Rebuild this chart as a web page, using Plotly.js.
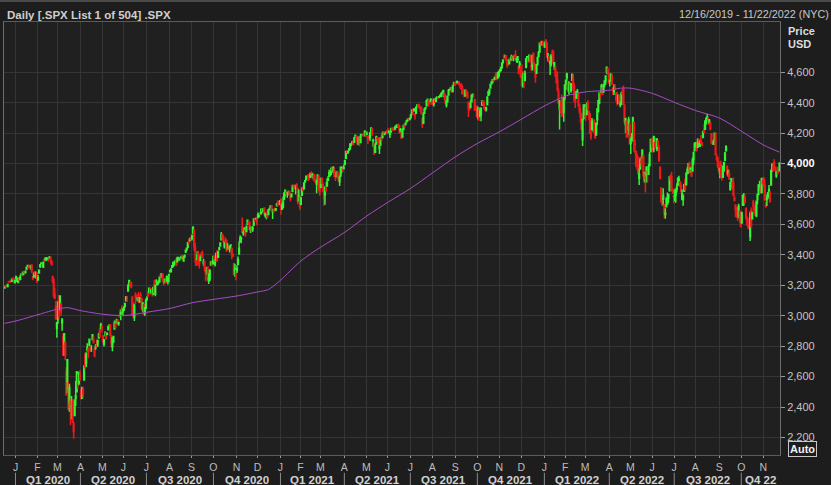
<!DOCTYPE html>
<html><head><meta charset="utf-8">
<script src="https://cdn.plot.ly/plotly-3.0.1.min.js"></script>
<style>html,body{margin:0;padding:0;background:#1d1d1d;overflow:hidden}</style>
</head><body><div id="chart" style="width:831px;height:485px"></div>
<script>
// ---- trading calendar ----
const startDate = "2019-12-16";
const endDate = "2022-11-22";
const holidays = ["2019-12-25","2020-01-01","2020-01-20","2020-02-17","2020-04-10","2020-05-25","2020-07-03","2020-09-07","2020-11-26","2020-12-25","2021-01-01","2021-01-18","2021-02-15","2021-04-02","2021-05-31","2021-07-05","2021-09-06","2021-11-25","2021-12-24","2022-01-17","2022-02-21","2022-04-15","2022-05-30","2022-06-20","2022-07-04","2022-09-05"];

// ---- daily OHLC (.SPX), one row per month ----
const opens = [
3183,3195,3196,3192,3223,3227,3225,3227,3247,3240,3216,
3245,3226,3218,3242,3238,3267,3281,3271,3285,3283,3303,3324,3321,3330,3316,3334,3248,3255,3289,3256,3282,
3235,3280,3324,3344,3335,3319,3366,3370,3365,3378,3370,3380,3380,3360,3258,3238,3140,3063,2916,
2975,3097,3045,3076,2954,2864,2814,2825,2630,2569,2509,2426,2437,2394,2432,2291,2345,2458,2501,2556,2558,2614,
2499,2458,2515,2578,2738,2686,2776,2782,2805,2796,2800,2843,2846,2785,2791,2810,2813,2854,2910,2919,2930,
2869,2815,2868,2884,2879,2908,2915,2939,2865,2795,2829,2913,2948,2953,2970,2948,3004,3015,3046,3026,
3038,3064,3098,3112,3163,3199,3213,3213,3123,3071,2994,3131,3137,3101,3141,3095,3138,3115,3047,3074,3018,3050,
3105,3143,3155,3166,3154,3177,3153,3205,3141,3225,3208,3224,3224,3268,3254,3272,3219,3219,3234,3228,3232,3270,
3289,3289,3318,3324,3341,3357,3370,3355,3372,3368,3381,3388,3392,3360,3386,3418,3436,3449,3486,3494,3509,
3507,3543,3564,3453,3371,3370,3413,3352,3363,3407,3412,3346,3357,3296,3295,3321,3226,3236,3334,3350,3341,
3385,3339,3368,3408,3385,3434,3459,3500,3534,3516,3453,3493,3494,3439,3439,3439,3464,3442,3403,3342,3278,3294,
3297,3336,3406,3486,3508,3584,3543,3563,3562,3553,3600,3611,3612,3560,3580,3567,3594,3635,3638,3635,
3645,3654,3669,3670,3694,3684,3706,3659,3656,3675,3666,3696,3713,3722,3684,3694,3693,3694,3723,3750,3736,3734,
3764,3699,3713,3764,3815,3803,3801,3803,3815,3788,3781,3817,3858,3845,3852,3863,3837,3756,3778,
3732,3791,3840,3837,3878,3893,3910,3921,3917,3911,3940,3918,3916,3921,3886,3865,3874,3916,3839,
3842,3903,3863,3818,3793,3844,3852,3891,3916,3925,3943,3973,3950,3953,3914,3917,3938,3920,3879,3918,3969,3964,3967,
3993,4034,4075,4074,4089,4096,4125,4131,4141,4140,4174,4179,4160,4128,4171,4139,4185,4188,4185,4206,4199,
4192,4179,4178,4170,4210,4228,4151,4131,4074,4129,4169,4170,4099,4122,4168,4171,4205,4192,4201,4210,
4217,4206,4192,4207,4229,4233,4233,4228,4242,4248,4256,4249,4220,4205,4174,4225,4248,4256,4275,4285,4293,4290,
4301,4327,4357,4351,4322,4330,4373,4381,4381,4369,4367,4297,4266,4331,4361,4381,4410,4417,4403,4408,4395,
4407,4393,4416,4409,4429,4438,4436,4442,4447,4464,4462,4462,4440,4383,4406,4450,4485,4487,4493,4474,4514,4529,
4528,4535,4532,4536,4518,4513,4507,4475,4479,4447,4477,4469,4403,4375,4368,4406,4439,4443,4420,4363,4371,
4317,4348,4310,4320,4384,4407,4391,4368,4359,4387,4448,4464,4497,4524,4533,4547,4554,4579,4581,4562,4573,
4610,4613,4630,4662,4700,4702,4707,4670,4659,4656,4689,4680,4702,4700,4708,4712,4679,4676,4640,4629,4640,
4602,4505,4589,4548,4631,4690,4687,4687,4710,4642,4636,4720,4653,4588,4594,4650,4704,4733,4796,4789,4795,4776,
4778,4804,4788,4693,4697,4655,4670,4729,4734,4637,4632,4588,4548,4471,4356,4367,4381,4380,4337,4432,
4520,4566,4535,4482,4505,4480,4547,4554,4506,4412,4429,4455,4456,4385,4333,4324,4156,4298,4355,
4364,4322,4401,4343,4327,4202,4223,4252,4280,4203,4188,4288,4345,4398,4462,4469,4494,4470,4522,4541,4603,4624,4600,
4540,4548,4572,4495,4475,4494,4462,4438,4398,4449,4385,4390,4473,4490,4385,4256,4278,4187,4222,4253,
4131,4159,4181,4271,4129,4081,4035,3991,3904,3964,4013,4052,4052,3900,3927,3920,3942,3929,3985,4077,4151,
4150,4096,4137,4135,4097,4148,4102,3975,3839,3764,3765,3729,3666,3716,3734,3774,3821,3921,3913,3825,3786,
3782,3793,3831,3858,3888,3881,3853,3767,3764,3818,3884,3860,3935,3955,3998,3965,3954,3951,4027,4087,
4113,4105,4107,4155,4115,4155,4134,4171,4227,4226,4270,4290,4281,4273,4267,4195,4134,4126,4154,4199,4034,4041,4000,
3937,3995,3931,3910,3960,4022,4084,3982,3940,3932,3831,3849,3875,3871,3774,3728,3682,3687,3652,3688,3633,
3610,3726,3753,3771,3707,3647,3595,3590,3520,3690,3638,3747,3698,3689,3657,3763,3799,3825,3836,3809,3881,
3902,3853,3733,3767,3781,3818,3810,3859,3964,3977,4007,3977,3919,3967,3957,3957
];
const highs = [
3197,3198,3198,3206,3226,3227,3226,3240,3247,3240,3232,
3258,3246,3247,3245,3268,3276,3282,3288,3295,3298,3317,3329,3329,3337,3327,3334,3259,3286,3293,3286,3282,
3268,3306,3337,3348,3341,3352,3376,3381,3385,3381,3375,3393,3389,3360,3260,3247,3183,3098,2960,
3091,3137,3131,3084,2985,2883,2883,2825,2661,2711,2563,2553,2454,2473,2453,2307,2449,2571,2637,2616,2631,2642,
2522,2534,2533,2676,2757,2760,2819,2782,2851,2801,2806,2880,2868,2785,2815,2845,2843,2888,2922,2954,2930,
2869,2844,2898,2892,2892,2932,2945,2945,2875,2853,2865,2968,2965,2981,2978,2957,3022,3037,3068,3049,
3063,3081,3130,3129,3211,3233,3222,3223,3123,3088,3079,3154,3141,3121,3156,3121,3155,3115,3086,3074,3054,3112,
3128,3165,3183,3185,3172,3180,3187,3236,3200,3239,3220,3233,3259,3277,3279,3280,3227,3242,3244,3264,3251,3272,
3302,3307,3331,3352,3352,3364,3381,3387,3388,3378,3387,3396,3399,3391,3400,3433,3445,3481,3502,3510,3514,
3529,3588,3564,3480,3379,3424,3425,3368,3402,3419,3429,3375,3363,3296,3320,3323,3279,3306,3360,3358,3394,
3397,3370,3410,3432,3426,3447,3483,3550,3534,3527,3489,3516,3502,3476,3465,3461,3466,3442,3410,3342,3342,3304,
3331,3389,3487,3529,3521,3646,3558,3582,3570,3593,3628,3624,3620,3585,3582,3589,3643,3636,3645,3635,
3679,3670,3683,3699,3698,3708,3713,3678,3665,3698,3695,3711,3726,3726,3703,3698,3711,3703,3740,3757,3744,3760,
3770,3738,3784,3811,3826,3818,3811,3821,3823,3796,3805,3860,3862,3852,3860,3870,3837,3830,3778,
3784,3844,3848,3872,3894,3916,3919,3931,3926,3937,3950,3933,3921,3931,3902,3895,3928,3926,3861,
3903,3907,3875,3843,3851,3881,3903,3918,3960,3944,3970,3982,3983,3969,3918,3949,3952,3937,3919,3978,3982,3968,3994,
4021,4084,4087,4084,4098,4129,4131,4149,4151,4173,4191,4181,4160,4175,4179,4195,4195,4193,4201,4218,4199,
4210,4179,4187,4202,4238,4236,4163,4134,4132,4183,4171,4170,4117,4172,4188,4210,4214,4203,4213,4218,
4235,4218,4205,4234,4233,4237,4238,4250,4249,4255,4258,4251,4233,4205,4226,4256,4256,4272,4286,4292,4300,4302,
4321,4355,4359,4361,4331,4372,4386,4393,4393,4370,4376,4297,4337,4359,4369,4415,4422,4417,4416,4430,4412,
4423,4424,4418,4430,4441,4440,4446,4449,4462,4468,4480,4462,4454,4419,4444,4489,4492,4499,4495,4514,4538,4532,
4537,4546,4542,4536,4521,4530,4520,4492,4485,4486,4486,4471,4403,4394,4416,4453,4460,4457,4420,4381,4383,
4375,4356,4369,4365,4418,4412,4415,4375,4373,4439,4475,4488,4520,4540,4550,4560,4572,4599,4584,4598,4608,
4621,4635,4664,4684,4718,4714,4709,4685,4664,4688,4698,4714,4703,4708,4718,4744,4691,4703,4640,4673,4647,
4652,4596,4608,4612,4694,4705,4695,4713,4711,4660,4712,4731,4666,4588,4652,4698,4740,4791,4807,4805,4809,4787,
4797,4819,4798,4726,4708,4673,4714,4749,4745,4666,4632,4612,4603,4494,4417,4412,4454,4429,4432,4516,
4547,4596,4542,4540,4521,4531,4591,4589,4527,4427,4472,4490,4456,4394,4363,4325,4295,4385,4389,
4375,4401,4416,4343,4327,4277,4299,4268,4292,4218,4272,4358,4412,4465,4482,4522,4501,4520,4546,4576,4637,4627,4603,
4549,4593,4593,4503,4521,4521,4464,4471,4453,4453,4410,4471,4489,4513,4386,4300,4278,4241,4308,4270,
4169,4200,4308,4272,4158,4082,4068,4049,3965,4039,4049,4089,4052,3946,3943,3982,3956,3999,4076,4158,4169,
4166,4177,4143,4168,4164,4150,4119,3975,3839,3779,3838,3729,3707,3779,3810,3802,3913,3928,3946,3837,3786,
3829,3832,3870,3910,3919,3881,3874,3829,3797,3864,3903,3939,3975,3999,4013,3976,3954,4039,4079,4140,
4141,4140,4167,4161,4152,4187,4141,4211,4258,4280,4302,4325,4302,4292,4267,4195,4149,4156,4200,4204,4062,4044,4016,
3971,4019,3943,3987,4011,4077,4120,3987,3961,3960,3881,3901,3876,3908,3790,3728,3715,3718,3736,3688,3672,
3683,3792,3807,3797,3710,3652,3641,3608,3685,3712,3678,3762,3719,3737,3757,3800,3862,3887,3859,3905,3893,
3912,3895,3751,3796,3813,3859,3818,3959,4002,4009,4028,3983,3955,3979,3962,4004
];
const lows = [
3183,3191,3191,3192,3216,3222,3221,3227,3235,3216,3213,
3236,3223,3214,3232,3236,3263,3260,3268,3277,3280,3302,3318,3311,3320,3302,3281,3234,3253,3271,3243,3214,
3235,3280,3313,3333,3325,3317,3355,3369,3360,3367,3356,3378,3342,3328,3214,3118,3108,2977,2855,
2946,2977,3035,2999,2902,2735,2735,2707,2478,2492,2380,2367,2281,2320,2295,2192,2345,2407,2500,2521,2545,2572,
2448,2455,2460,2575,2657,2664,2763,2721,2805,2761,2764,2843,2820,2728,2776,2795,2795,2852,2860,2912,2892,
2822,2798,2863,2844,2871,2903,2904,2870,2794,2766,2820,2911,2922,2953,2939,2934,2988,2970,3024,2999,
3031,3052,3098,3091,3163,3197,3193,3181,2999,2984,2966,3077,3109,3093,3083,3084,3125,3033,3025,3005,2999,3048,
3099,3125,3155,3142,3144,3127,3135,3152,3128,3201,3199,3205,3216,3247,3251,3222,3200,3215,3216,3228,3205,3220,
3284,3285,3317,3318,3329,3336,3326,3355,3364,3361,3379,3371,3369,3354,3380,3413,3425,3444,3468,3488,3494,
3494,3536,3427,3350,3330,3366,3329,3311,3363,3390,3384,3328,3292,3229,3271,3232,3209,3229,3332,3327,3341,
3361,3323,3367,3354,3385,3428,3458,3495,3500,3480,3441,3483,3420,3436,3433,3416,3441,3371,3388,3268,3257,3234,
3280,3336,3406,3486,3477,3544,3525,3557,3519,3553,3600,3594,3567,3543,3556,3552,3594,3617,3629,3594,
3645,3645,3661,3670,3684,3679,3657,3645,3634,3645,3660,3691,3710,3701,3636,3676,3689,3689,3723,3720,3730,3726,
3663,3696,3705,3764,3784,3796,3776,3792,3792,3750,3780,3817,3846,3831,3797,3848,3733,3756,3694,
3726,3791,3817,3827,3874,3892,3903,3885,3890,3905,3923,3901,3886,3884,3874,3805,3860,3819,3789,
3842,3868,3818,3723,3730,3819,3852,3885,3916,3916,3924,3950,3936,3911,3885,3910,3901,3889,3853,3918,3940,3944,3966,
3993,4034,4069,4063,4082,4095,4114,4124,4120,4140,4171,4146,4119,4126,4115,4139,4182,4181,4182,4177,4175,
4188,4128,4161,4148,4202,4188,4111,4057,4074,4129,4143,4127,4062,4122,4152,4171,4181,4188,4197,4203,
4198,4199,4168,4207,4214,4217,4219,4221,4233,4235,4240,4196,4203,4165,4174,4218,4240,4256,4271,4275,4283,4287,
4301,4327,4315,4340,4290,4330,4365,4368,4362,4341,4326,4234,4259,4329,4351,4373,4405,4373,4387,4408,4387,
4381,4374,4400,4404,4427,4425,4431,4437,4436,4460,4437,4417,4397,4368,4406,4450,4478,4485,4468,4474,4514,4510,
4522,4527,4524,4513,4493,4492,4457,4458,4435,4439,4448,4427,4306,4347,4368,4406,4435,4436,4346,4346,4307,
4289,4279,4310,4278,4384,4386,4361,4343,4342,4387,4448,4448,4496,4524,4528,4538,4547,4568,4551,4562,4567,
4596,4604,4624,4662,4683,4695,4671,4630,4650,4651,4673,4680,4684,4672,4693,4680,4662,4660,4585,4629,4560,
4511,4505,4495,4541,4631,4670,4666,4671,4666,4606,4612,4651,4600,4531,4594,4645,4704,4733,4781,4775,4777,4766,
4759,4775,4699,4671,4663,4582,4638,4708,4651,4615,4568,4531,4475,4396,4223,4329,4305,4309,4274,4415,
4484,4544,4470,4452,4471,4465,4547,4477,4402,4365,4429,4429,4374,4327,4268,4222,4115,4287,4318,
4280,4322,4351,4285,4199,4157,4223,4209,4201,4161,4187,4251,4335,4390,4425,4469,4455,4466,4501,4517,4589,4582,4530,
4507,4547,4515,4451,4450,4483,4409,4382,4397,4392,4370,4388,4450,4385,4268,4200,4175,4170,4188,4124,
4063,4147,4144,4077,4067,3976,3959,3929,3859,3964,3983,4033,3912,3876,3810,3876,3875,3925,3985,4077,4107,
4074,4074,4098,4110,4081,4108,4017,3901,3740,3723,3723,3640,3637,3716,3734,3743,3821,3884,3820,3800,3739,
3752,3742,3810,3858,3878,3844,3810,3759,3722,3818,3819,3860,3931,3933,3940,3936,3911,3951,3992,4079,
4101,4079,4107,4135,4108,4128,4112,4171,4201,4225,4257,4278,4253,4262,4219,4129,4123,4122,4148,4057,4017,3971,3954,
3904,3907,3887,3907,3945,4022,4084,3921,3914,3892,3822,3843,3828,3789,3750,3648,3644,3624,3640,3610,3584,
3610,3726,3722,3741,3632,3589,3569,3571,3491,3584,3638,3687,3666,3656,3647,3732,3799,3824,3803,3809,3864,
3843,3758,3709,3721,3765,3786,3745,3859,3944,3949,3954,3955,3906,3929,3933,3947
];
const closes = [
3191,3193,3191,3205,3221,3224,3223,3240,3240,3221,3231,
3258,3235,3246,3237,3253,3275,3265,3288,3283,3289,3317,3330,3321,3322,3326,3295,3244,3276,3273,3284,3226,
3249,3298,3335,3346,3328,3352,3358,3379,3374,3380,3370,3386,3373,3338,3226,3128,3116,2979,2954,
3090,3003,3130,3024,2972,2747,2882,2741,2481,2711,2386,2529,2398,2409,2305,2237,2447,2476,2630,2541,2627,2585,
2471,2527,2489,2664,2659,2750,2790,2762,2846,2783,2800,2875,2823,2737,2799,2798,2837,2878,2863,2940,2912,
2831,2843,2868,2848,2881,2930,2930,2870,2820,2853,2864,2954,2923,2972,2949,2955,2992,3036,3030,3044,
3056,3081,3123,3112,3194,3232,3207,3190,3002,3041,3067,3125,3113,3115,3098,3118,3131,3050,3084,3009,3053,3100,
3116,3130,3180,3145,3170,3152,3185,3155,3198,3227,3216,3225,3252,3257,3276,3236,3216,3239,3218,3258,3246,3271,
3295,3307,3328,3349,3351,3360,3334,3380,3373,3373,3382,3390,3375,3386,3397,3431,3444,3479,3485,3508,3500,
3527,3581,3455,3427,3332,3399,3339,3341,3384,3401,3385,3357,3319,3281,3316,3237,3247,3298,3352,3335,3363,
3381,3348,3409,3361,3419,3447,3477,3534,3512,3489,3483,3484,3427,3443,3436,3453,3465,3401,3391,3271,3310,3270,
3310,3369,3443,3510,3509,3551,3546,3573,3537,3585,3627,3610,3568,3582,3558,3578,3635,3630,3638,3622,
3662,3669,3667,3699,3692,3702,3673,3668,3663,3647,3695,3701,3722,3709,3695,3687,3690,3703,3735,3727,3732,3756,
3701,3727,3748,3804,3825,3800,3801,3810,3796,3768,3799,3852,3853,3841,3855,3850,3751,3787,3714,
3774,3826,3830,3872,3887,3916,3911,3910,3916,3935,3933,3931,3914,3907,3877,3881,3925,3829,3811,
3902,3870,3820,3768,3842,3821,3875,3899,3939,3943,3969,3963,3974,3915,3913,3941,3911,3889,3910,3975,3971,3959,3973,
4020,4078,4074,4080,4097,4129,4128,4142,4125,4170,4185,4163,4135,4173,4135,4180,4188,4187,4183,4211,4181,
4193,4165,4168,4202,4233,4188,4152,4063,4113,4174,4163,4128,4116,4159,4156,4197,4188,4196,4201,4204,
4202,4208,4193,4230,4227,4227,4220,4239,4247,4255,4247,4224,4222,4166,4225,4246,4242,4266,4281,4291,4292,4298,
4320,4352,4344,4358,4321,4370,4385,4369,4374,4360,4327,4258,4323,4359,4367,4412,4422,4401,4401,4419,4395,
4387,4423,4403,4429,4437,4432,4437,4448,4461,4468,4480,4448,4400,4406,4442,4480,4486,4496,4470,4509,4529,4523,
4524,4537,4535,4520,4514,4493,4459,4469,4443,4481,4474,4433,4358,4354,4396,4449,4455,4443,4353,4359,4308,
4357,4300,4346,4364,4400,4391,4361,4351,4364,4438,4471,4486,4520,4536,4550,4545,4566,4575,4552,4596,4605,
4614,4631,4661,4680,4698,4702,4685,4647,4649,4683,4683,4701,4689,4705,4698,4683,4691,4701,4595,4655,4567,
4513,4577,4538,4592,4687,4701,4667,4712,4669,4634,4710,4669,4621,4568,4649,4697,4726,4791,4786,4793,4779,4766,
4797,4794,4701,4696,4677,4670,4713,4726,4659,4663,4577,4533,4483,4398,4410,4356,4350,4327,4432,4516,
4547,4589,4477,4501,4484,4522,4587,4504,4419,4402,4471,4475,4380,4349,4305,4226,4289,4385,4374,
4306,4387,4363,4329,4201,4171,4278,4260,4204,4173,4262,4358,4412,4463,4461,4512,4456,4520,4543,4576,4632,4602,4530,
4546,4583,4525,4481,4500,4488,4413,4397,4447,4393,4392,4462,4459,4394,4272,4296,4175,4184,4288,4132,
4155,4175,4300,4147,4123,3991,4001,3935,3930,4024,4008,4089,3924,3901,3901,3974,3941,3979,4058,4158,4132,
4101,4177,4109,4121,4161,4116,4018,3901,3750,3735,3790,3667,3675,3765,3760,3796,3912,3900,3822,3819,3785,
3825,3831,3845,3903,3899,3854,3819,3802,3790,3863,3831,3937,3960,3999,3962,3967,3921,4024,4072,4130,
4119,4091,4155,4152,4145,4140,4122,4210,4207,4280,4297,4305,4274,4284,4228,4138,4129,4141,4199,4058,4031,3986,3955,
3967,3924,3908,3980,4006,4067,4110,3933,3946,3901,3873,3900,3856,3790,3758,3693,3655,3647,3719,3640,3586,
3678,3791,3783,3745,3640,3612,3589,3577,3670,3583,3678,3720,3695,3666,3753,3797,3859,3831,3807,3901,3872,
3856,3760,3720,3771,3807,3828,3749,3956,3993,3957,3992,3959,3947,3965,3950,4004
];

// ---- moving average (purple line) ----
const maDates = ["2019-12-16","2020-01-02","2020-02-03","2020-03-02","2020-03-13","2020-04-01","2020-05-01","2020-06-01","2020-07-01","2020-08-03","2020-09-01","2020-10-01","2020-11-02","2020-12-01","2020-12-15","2020-12-28","2021-01-04","2021-02-01","2021-03-01","2021-04-01","2021-05-03","2021-06-01","2021-07-01","2021-08-02","2021-09-01","2021-10-01","2021-11-01","2021-12-01","2022-01-03","2022-02-01","2022-03-01","2022-04-01","2022-04-18","2022-05-02","2022-06-01","2022-07-01","2022-08-01","2022-09-01","2022-10-03","2022-11-01","2022-11-22"];
const maValues = [2950,2966,3007,3044,3053,3033,3010,3001,3023,3048,3085,3108,3130,3157,3172,3213,3236,3360,3451,3549,3656,3745,3838,3940,4046,4134,4210,4293,4380,4444,4471,4482,4495,4495,4460,4401,4348,4298,4211,4121,4075];

// ---- axis labels ----
const monthLetters = ["J","F","M","A","M","J","J","A","S","O","N","D"];
const priceTicks = [2200,2400,2600,2800,3000,3200,3400,3600,3800,4000,4200,4400,4600];
const lastPriceTick = 4000;

// build trading days
const dates = [];
(function(){
  const hs = new Set(holidays);
  const d = new Date(startDate + "T00:00:00Z");
  const e = new Date(endDate + "T00:00:00Z");
  while (d <= e) {
    const dow = d.getUTCDay();
    const s = d.toISOString().slice(0,10);
    if (dow !== 0 && dow !== 6 && !hs.has(s)) dates.push(s);
    d.setUTCDate(d.getUTCDate() + 1);
  }
})();
const n = Math.min(dates.length, opens.length, highs.length, lows.length, closes.length);
const xi = [];
for (let i = 0; i < n; i++) xi.push(i);
function idxOf(ds){ const i = dates.findIndex(x => x >= ds); return i < 0 ? n - 1 : Math.min(i, n - 1); }

const tickVals = [], tickText = [], qStarts = [];
for (let i = 1; i < n; i++) {
  if (dates[i].slice(0,7) !== dates[i-1].slice(0,7)) {
    const m = +dates[i].slice(5,7);
    tickVals.push(i - 0.5); tickText.push(monthLetters[m-1]);
    if ((m - 1) % 3 === 0) qStarts.push(i);
  }
}
const FONT = "Liberation Sans, Arial, sans-serif";
const annotations = [], shapes = [];
qStarts.forEach((qs, k) => {
  const qe = k + 1 < qStarts.length ? qStarts[k+1] : n;
  const m = +dates[qs].slice(5,7), yr = dates[qs].slice(0,4);
  const label = "Q" + ((m - 1) / 3 + 1) + " " + (qe - qs < 40 ? yr.slice(2) : yr);
  annotations.push({xref:"x", yref:"paper", x:(qs + qe) / 2 - 0.5, y:-0.0577, text:"<b>" + label + "</b>", showarrow:false, xanchor:"center", yanchor:"middle", font:{family:FONT, size:11.5, color:"#d2d2d2"}});
  shapes.push({type:"line", xref:"x", yref:"paper", x0:qs - 0.5, x1:qs - 0.5, y0:-0.041, y1:-0.075, line:{color:"#8a8a8a", width:1}});
});
annotations.push(
  {xref:"paper", yref:"paper", x:0.0013, y:1.0173, xanchor:"left", yanchor:"middle", showarrow:false, text:"<b>Daily [.SPX List 1 of 504] .SPX</b>", font:{family:FONT, size:11.5, color:"#cfcfcf"}},
  {xref:"paper", yref:"paper", x:1.0657, y:1.0185, xanchor:"right", yanchor:"middle", showarrow:false, text:"12/16/2019 - 11/22/2022 (NYC)", font:{family:FONT, size:10.8, color:"#c8c8c8"}},
  {xref:"paper", yref:"paper", x:1.0077, y:0.979, xanchor:"left", yanchor:"middle", showarrow:false, text:"<b>Price</b>", font:{family:FONT, size:11, color:"#dcdcdc"}},
  {xref:"paper", yref:"paper", x:1.0077, y:0.949, xanchor:"left", yanchor:"middle", showarrow:false, text:"<b>USD</b>", font:{family:FONT, size:11, color:"#dcdcdc"}},
  {xref:"paper", yref:"paper", x:1.0284, y:0.015, xanchor:"center", yanchor:"middle", showarrow:false, text:"<b>Auto</b>", bordercolor:"#c8c8c8", borderwidth:1, borderpad:1, bgcolor:"#1d1d1d", font:{family:FONT, size:11, color:"#f0f0f0"}}
);
shapes.push({type:"rect", xref:"paper", yref:"paper", x0:-0.01, x1:1.07, y0:1.0462, y1:1.0508, fillcolor:"#4a4a4a", line:{width:0}});

const priceText = priceTicks.map(v => v === lastPriceTick ? '<span style="color:#ffffff"><b>' + v.toLocaleString("en-US") + '</b></span>' : v.toLocaleString("en-US"));

const traces = [
  {type:"candlestick", x:xi, open:opens.slice(0,n), high:highs.slice(0,n), low:lows.slice(0,n), close:closes.slice(0,n),
   increasing:{line:{color:"#33f533", width:1.5}, fillcolor:"#33f533"},
   decreasing:{line:{color:"#ee1a1a", width:1.5}, fillcolor:"#ee1a1a"},
   whiskerwidth:0, hoverinfo:"skip"},
  {type:"scatter", mode:"lines", x:maDates.map(idxOf), y:maValues, line:{color:"#a84cc8", width:1, shape:"spline", smoothing:0.8}, hoverinfo:"skip"}
];

const layout = {
  width:831, height:485, margin:{l:4, r:51, t:22, b:30},
  paper_bgcolor:"#1d1d1d", plot_bgcolor:"#202020",
  showlegend:false, hovermode:false, boxgap:0.05,
  font:{family:FONT, color:"#c4c4c4"},
  xaxis:{range:[-0.5, n - 0.5], rangeslider:{visible:false}, tickmode:"array", tickvals:tickVals, ticktext:tickText,
    ticks:"outside", ticklen:2, tickcolor:"#9a9a9a", tickfont:{family:FONT, size:10.5, color:"#bdbdbd"},
    showgrid:true, gridcolor:"#353535", gridwidth:1, zeroline:false, showline:true, linecolor:"#5c5c5c", mirror:true, fixedrange:true},
  yaxis:{side:"right", range:[2085, 4930], tickmode:"array", tickvals:priceTicks, ticktext:priceText,
    ticks:"outside", ticklen:4, tickcolor:"#9a9a9a", tickfont:{family:FONT, size:11, color:"#c4c4c4"},
    showgrid:true, gridcolor:"#353535", gridwidth:1, zeroline:false, showline:true, linecolor:"#6e6e6e", mirror:true, fixedrange:true},
  annotations:annotations, shapes:shapes
};
Plotly.newPlot("chart", traces, layout, {staticPlot:true, displayModeBar:false});
</script>
</body></html>
